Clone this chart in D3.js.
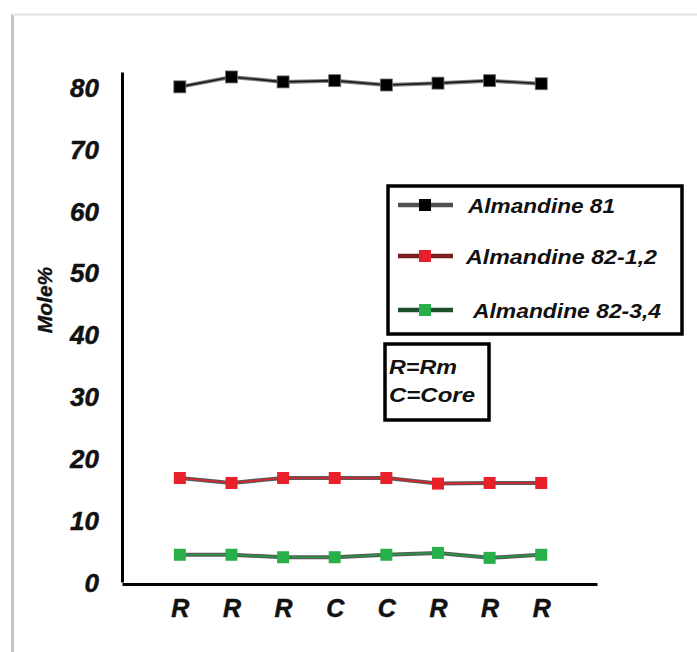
<!DOCTYPE html>
<html>
<head>
<meta charset="utf-8">
<script src="https://cdn.jsdelivr.net/npm/d3@7"></script>
<style>
  html, body { margin: 0; padding: 0; background: #fff; }
  svg { display: block; }
  text { font-family: "Liberation Sans", Arial, sans-serif; font-weight: bold; font-style: italic; fill: #111; }
</style>
</head>
<body>
<svg id="chart" width="697" height="652"></svg>
<script>
// ---- data ----
const categories = ["R", "R", "R", "C", "C", "R", "R", "R"];
const alm81   = [80.0, 81.6, 80.8, 81.0, 80.3, 80.6, 81.0, 80.5];
const alm8212 = [16.8, 16.0, 16.8, 16.8, 16.8, 15.9, 16.0, 16.0];
const alm8234 = [4.4, 4.4, 4.0, 4.0, 4.4, 4.7, 3.9, 4.4];
const yTicks = [0, 10, 20, 30, 40, 50, 60, 70, 80];
const seriesNames = ["Almandine 81", "Almandine 82-1,2", "Almandine 82-3,4"];
const noteLines = ["R=Rm", "C=Core"];

const series = [
  { name: seriesNames[0], values: alm81,   line: "#1a1a1a", halo: "#555", fill: "#000000", legendLine: "#505050" },
  { name: seriesNames[1], values: alm8212, line: "#e3202a", halo: "#222", fill: "#e8202a", legendLine: "#7a1c1c" },
  { name: seriesNames[2], values: alm8234, line: "#1f9a3e", halo: "#222", fill: "#27b04a", legendLine: "#1e4f2c" }
];

const svg = d3.select("#chart");
const FONT = '"Liberation Sans", Arial, sans-serif';

// page frame
svg.append("line").attr("x1", 12.5).attr("y1", 14).attr("x2", 12.5).attr("y2", 652)
  .attr("stroke", "#c4c4c4").attr("stroke-width", 3);
svg.append("line").attr("x1", 12).attr("y1", 14.5).attr("x2", 697).attr("y2", 14.5)
  .attr("stroke", "#e2e2e2").attr("stroke-width", 2);

// scales
const x = d3.scaleLinear().domain([-1.12, 8.08]).range([122, 597]);
const y = d3.scaleLinear().domain([0, 82.4]).range([582, 72]);

// y axis
const yAxis = svg.append("g").attr("transform", "translate(122,0)")
  .call(d3.axisLeft(y).tickValues(yTicks).tickSize(0).tickPadding(23).tickFormat(d3.format("d")));
yAxis.select(".domain").attr("stroke", "#000").attr("stroke-width", 3);
yAxis.selectAll("text").attr("font-size", 26).attr("dy", "0.36em")
  .style("font-family", FONT).style("font-weight", "bold").style("font-style", "italic")
  .attr("fill", "#111").attr("stroke", "#111").attr("stroke-width", 0.5);

// x axis
const xAxis = svg.append("g").attr("transform", "translate(0,584)")
  .call(d3.axisBottom(x).tickValues(d3.range(categories.length)).tickSize(0).tickPadding(15)
    .tickFormat(i => categories[i]));
xAxis.select(".domain").attr("stroke", "#000").attr("stroke-width", 3);
xAxis.selectAll("text").attr("font-size", 25)
  .style("font-family", FONT).style("font-weight", "bold").style("font-style", "italic")
  .attr("fill", "#111").attr("stroke", "#111").attr("stroke-width", 0.5);

// y axis title
svg.append("text")
  .attr("transform", "translate(52,300) rotate(-90)")
  .attr("text-anchor", "middle")
  .attr("font-size", 21)
  .attr("stroke", "#111").attr("stroke-width", 0.4)
  .text("Mole%");

// series
const lineGen = d3.line().x((d, i) => x(i)).y(d => y(d));
const ms = 12;
series.forEach(s => {
  const g = svg.append("g");
  g.append("path").datum(s.values).attr("d", lineGen)
    .attr("fill", "none").attr("stroke", s.halo).attr("stroke-width", 4).attr("opacity", 0.75);
  g.append("path").datum(s.values).attr("d", lineGen)
    .attr("fill", "none").attr("stroke", s.line).attr("stroke-width", 1.6);
  g.selectAll("rect").data(s.values).join("rect")
    .attr("x", (d, i) => x(i) - ms / 2).attr("y", d => y(d) - ms / 2)
    .attr("width", ms).attr("height", ms)
    .attr("fill", s.fill).attr("stroke", s.fill === "#000000" ? "#6b7080" : "none").attr("stroke-width", 0.8);
});

// legend
const lg = svg.append("g");
lg.append("rect").attr("x", 388).attr("y", 186).attr("width", 294).attr("height", 148)
  .attr("fill", "#fff").attr("stroke", "#000").attr("stroke-width", 3.5);
const legendY = [205, 256, 310];
const textX = [468, 466, 473];
const textW = [147, 191, 188];
series.forEach((s, i) => {
  const ly = legendY[i];
  lg.append("line").attr("x1", 398).attr("x2", 453).attr("y1", ly).attr("y2", ly)
    .attr("stroke", s.legendLine).attr("stroke-width", 4.5);
  lg.append("rect").attr("x", 425 - 6).attr("y", ly - 6).attr("width", 12).attr("height", 12)
    .attr("fill", s.fill);
  lg.append("text").attr("x", textX[i]).attr("y", ly).attr("dy", "0.36em")
    .attr("font-size", 21).attr("textLength", textW[i]).attr("lengthAdjust", "spacingAndGlyphs")
    .text(s.name);
});

// note box
const ng = svg.append("g");
ng.append("rect").attr("x", 385).attr("y", 344).attr("width", 104).attr("height", 76)
  .attr("fill", "#fff").attr("stroke", "#000").attr("stroke-width", 3.5);
const noteY = [367, 395];
const noteW = [68, 86];
noteLines.forEach((t, i) => {
  ng.append("text").attr("x", 389).attr("y", noteY[i]).attr("dy", "0.36em")
    .attr("font-size", 20).attr("textLength", noteW[i]).attr("lengthAdjust", "spacingAndGlyphs")
    .text(t);
});
</script>
</body>
</html>
